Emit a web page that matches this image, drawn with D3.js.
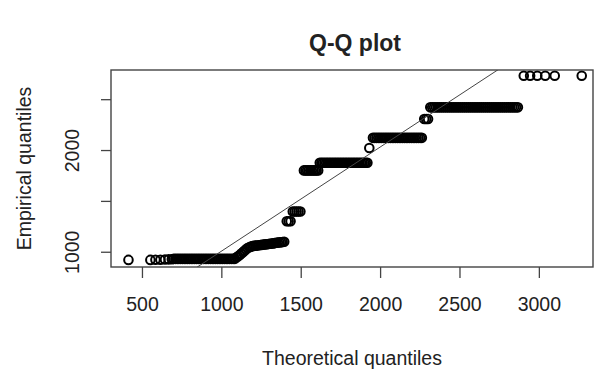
<!DOCTYPE html>
<head>
  <meta charset="utf-8">
  <script src="https://d3js.org/d3.v7.min.js"></script>
  <style>
    body { margin: 0; background: #fff; }
    text { font-family: "Liberation Sans", Arial, sans-serif; fill: #222; }
  </style>
</head>
<body>
  <svg id="chart"></svg>
  <script>
    var width = 604;
    var height = 371;

    // axis settings
    var xDomain = [305, 3341];
    var yDomain = [850, 2787];
    var xTicks = [500, 1000, 1500, 2000, 2500, 3000];
    var yTicks = [1000, 1500, 2000, 2500];
    var yLabelled = [1000, 2000];

    // qqline: empirical = intercept + slope * theoretical
    var lineIntercept = -19;
    var lineSlope = 1.024;

    // sample points, grouped by step of the empirical quantiles
    var tailLow = [[415, 920], [553, 920], [585, 921], [616, 922], [645, 924], [668, 925], [688, 926]];
    var stripLowY = 930;
    var stripLowX = [700, 711, 722, 733, 744, 755, 766, 777, 788, 799, 810, 821, 832, 843, 854, 865, 876, 887,
                     898, 909, 920, 931, 942, 953, 964, 975, 986, 997, 1008, 1019, 1030, 1041, 1052, 1063, 1074, 1085];
    var riseLow = [[1096, 945], [1106, 955], [1116, 968], [1126, 982], [1136, 996], [1146, 1010], [1156, 1024],
                   [1166, 1036], [1176, 1044], [1186, 1050], [1196, 1055], [1206, 1058], [1216, 1060], [1226, 1062],
                   [1236, 1064], [1246, 1066], [1256, 1068], [1266, 1070], [1276, 1072], [1286, 1074], [1296, 1076],
                   [1306, 1078], [1316, 1080], [1326, 1082], [1336, 1085], [1346, 1088], [1356, 1090], [1366, 1092],
                   [1376, 1094], [1386, 1096], [1396, 1098]];
    var step1300X = [1412, 1424, 1436];
    var step1395X = [1450, 1462, 1474, 1486, 1498];
    var band1800X = [1520, 1530, 1540, 1550, 1560, 1570, 1580, 1590, 1600, 1610];
    var band1875X = [1620, 1630, 1640, 1650, 1660, 1670, 1680, 1690, 1700, 1710, 1720, 1730, 1740, 1750, 1760, 1770,
                     1780, 1790, 1800, 1810, 1820, 1830, 1840, 1850, 1860, 1870, 1880, 1890, 1900, 1910, 1920];
    var single2020 = [[1932, 2020]];
    var band2120X = [1955, 1966, 1977, 1988, 1999, 2010, 2021, 2032, 2043, 2054, 2065, 2076, 2087, 2098, 2109,
                     2120, 2131, 2142, 2153, 2164, 2175, 2186, 2197, 2208, 2219, 2230, 2241, 2252, 2263];
    var step2305X = [2278, 2290, 2302];
    var band2420X = [2316, 2328, 2340, 2352, 2364, 2376, 2388, 2400, 2412, 2424, 2436, 2448, 2460, 2472, 2484, 2496,
                     2508, 2520, 2532, 2544, 2556, 2568, 2580, 2592, 2604, 2616, 2628, 2640, 2652, 2664, 2676, 2688,
                     2700, 2712, 2724, 2736, 2748, 2760, 2772, 2784, 2796, 2808, 2820, 2832, 2844, 2856, 2868];
    var tailHighX = [2905, 2945, 2990, 3040, 3100, 3270];

    function level(xs, yv) { return xs.map(function(v) { return [v, yv]; }); }

    var points = [].concat(
      tailLow,
      level(stripLowX, stripLowY),
      riseLow,
      level(step1300X, 1300),
      level(step1395X, 1395),
      level(band1800X, 1800),
      level(band1875X, 1875),
      single2020,
      level(band2120X, 2120),
      level(step2305X, 2305),
      level(band2420X, 2420),
      level(tailHighX, 2730)
    );

    var plot = {left: 111, right: 593, top: 70, bottom: 267};

    var svg = d3.select("#chart")
      .attr("width", width)
      .attr("height", height);

    svg.append("rect")
      .attr("width", width).attr("height", height)
      .attr("fill", "#fff");

    var x = d3.scaleLinear().domain(xDomain).range([plot.left, plot.right]);
    var y = d3.scaleLinear().domain(yDomain).range([plot.bottom, plot.top]);

    //clip for the reference line
    svg.append("clipPath").attr("id", "clip")
      .append("rect")
      .attr("x", plot.left).attr("y", plot.top)
      .attr("width", plot.right - plot.left).attr("height", plot.bottom - plot.top);

    //points
    svg.append("g")
      .selectAll("circle")
      .data(points).enter()
      .append("circle")
      .attr("cx", function(d) { return x(d[0]); })
      .attr("cy", function(d) { return y(d[1]); })
      .attr("r", 4.3)
      .attr("fill", "none")
      .attr("stroke", "#000")
      .attr("stroke-width", 2);

    //qq line
    svg.append("line")
      .attr("clip-path", "url(#clip)")
      .attr("x1", x(xDomain[0])).attr("y1", y(lineIntercept + lineSlope * xDomain[0]))
      .attr("x2", x(xDomain[1])).attr("y2", y(lineIntercept + lineSlope * xDomain[1]))
      .attr("stroke", "#444")
      .attr("stroke-width", 1);

    //plot box
    svg.append("rect")
      .attr("x", plot.left).attr("y", plot.top)
      .attr("width", plot.right - plot.left).attr("height", plot.bottom - plot.top)
      .attr("fill", "none")
      .attr("stroke", "#444")
      .attr("stroke-width", 1.4);

    //x axis
    var gx = svg.append("g")
      .attr("transform", "translate(0," + plot.bottom + ")")
      .call(d3.axisBottom(x).tickValues(xTicks).tickSize(11).tickSizeOuter(0).tickFormat(d3.format("d")));
    gx.select(".domain").remove();
    gx.selectAll("line").attr("stroke", "#444").attr("stroke-width", 1.3);
    gx.selectAll("text")
      .attr("y", 44).attr("dy", 0)
      .style("font-size", "19.5px")
      .attr("fill", "#222");

    //y axis, labels parallel to the axis like R
    var gy = svg.append("g")
      .attr("transform", "translate(" + plot.left + ",0)")
      .call(d3.axisLeft(y).tickValues(yTicks).tickSize(10).tickSizeOuter(0)
        .tickFormat(function(d) { return yLabelled.indexOf(d) >= 0 ? d3.format("d")(d) : ""; }));
    gy.select(".domain").remove();
    gy.selectAll("line").attr("stroke", "#444").attr("stroke-width", 1.3);
    gy.selectAll("text")
      .attr("transform", "rotate(-90)")
      .attr("x", 0).attr("y", -32).attr("dy", 0)
      .attr("text-anchor", "middle")
      .style("font-size", "19.5px")
      .attr("fill", "#222");

    //titles
    svg.append("text")
      .attr("x", 355).attr("y", 51)
      .attr("text-anchor", "middle")
      .style("font-size", "23px")
      .style("font-weight", "bold")
      .text("Q-Q plot");

    svg.append("text")
      .attr("x", 352).attr("y", 365)
      .attr("text-anchor", "middle")
      .style("font-size", "19.5px")
      .text("Theoretical quantiles");

    svg.append("text")
      .attr("transform", "translate(31," + ((plot.top + plot.bottom) / 2) + ") rotate(-90)")
      .attr("text-anchor", "middle")
      .style("font-size", "19.5px")
      .text("Empirical quantiles");
  </script>
</body>
